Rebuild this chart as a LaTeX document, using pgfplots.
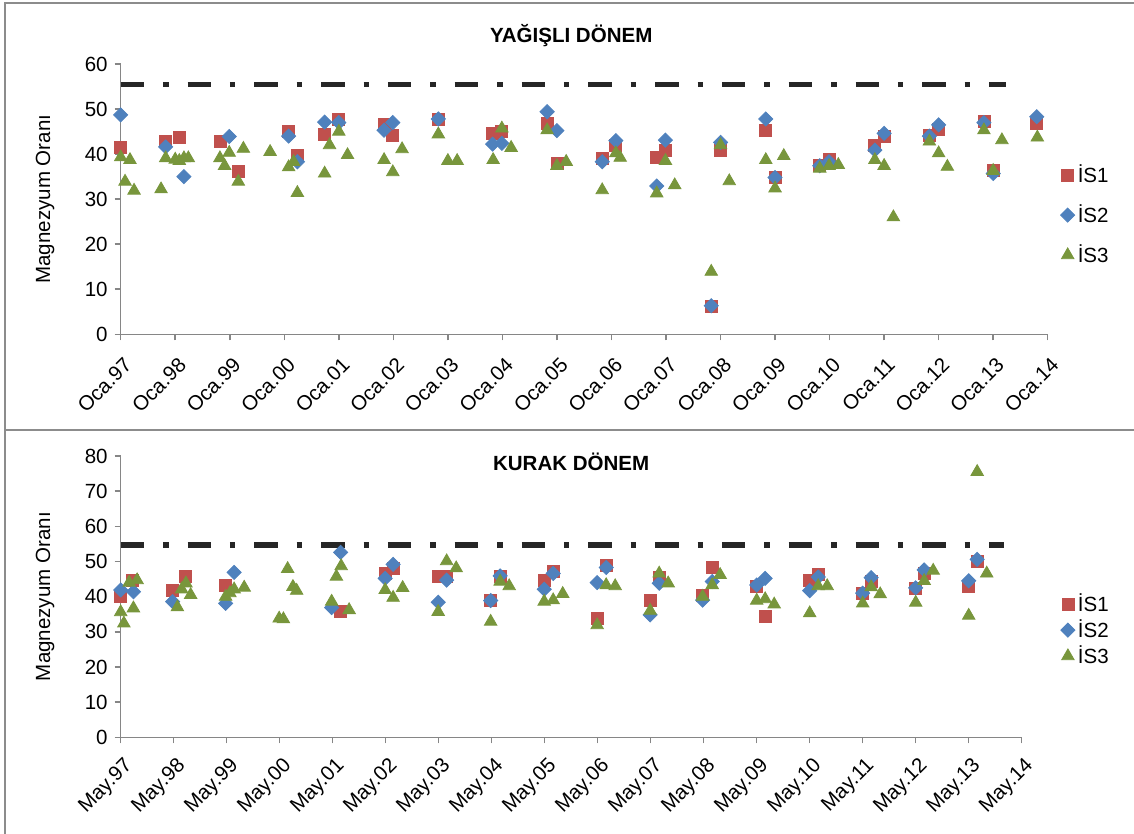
\documentclass[border=0pt]{standalone}
\usepackage{fontspec}
\setmainfont{Liberation Sans}
\usepackage{pgfplots}
\pgfplotsset{compat=1.18}
\definecolor{sA}{HTML}{C0504D}
\definecolor{sB}{HTML}{4F81BD}
\definecolor{sC}{RGB}{120,150,60}
\definecolor{axgray}{HTML}{868686}
\definecolor{frgray}{HTML}{8C8C8C}
\definecolor{limc}{HTML}{262626}
\newcommand{\fs}{\fontsize{10.3}{12}\selectfont}
\pgfplotsset{
  panel/.style={
    scale only axis,
    axis x line*=bottom, axis y line*=left,
    axis line style={draw=axgray, line width=0.75bp, -},
    tick align=outside, major tick length=3bp,
    tick style={draw=axgray, line width=0.75bp},
    xmin=0, xmax=17, xtick={0,...,17},
    enlargelimits=false, clip=false,
    font=\fs,
    /pgf/number format/assume math mode=true,
    ticklabel style={font=\fs},
    every axis title shift=0pt,
    legend cell align=left,
    ylabel={Magnezyum Oranı},
    legend image code/.code={\draw[mark repeat=2,mark phase=2,##1] plot coordinates {(0bp,0bp)(5bp,0bp)(10bp,0bp)};},
  },
  sA/.style={only marks, mark=square*, mark size=3bp, color=sA, fill=sA},
  sB/.style={only marks, mark=square*, mark size=2.5bp, mark options={rotate=45}, color=sB, fill=sB},
  sC/.style={only marks, mark=triangle*, mark size=3.6bp, color=sC, fill=sC},
  lim/.style={forget plot, no marks, color=limc, line width=2.7bp, dash pattern=on 11.7bp off 9.5bp on 2.7bp off 9.5bp},
}
\begin{document}
\begin{tikzpicture}
\useasboundingbox (0,0) rectangle (567bp,417bp);
\draw[frgray, line width=1bp] (2.5bp,0) -- (2.5bp,415.4bp) -- (567bp,415.4bp);
\draw[frgray, line width=1bp] (2.5bp,202bp) -- (567bp,202bp);
% ---------- top panel ----------
\begin{axis}[panel,
  at={(60.35bp,249.85bp)}, anchor=south west,
  width=463.5bp, height=135.15bp,
  ymin=0, ymax=60, ytick={0,10,...,60},
  xticklabels={Oca.97,Oca.98,Oca.99,Oca.00,Oca.01,Oca.02,Oca.03,Oca.04,Oca.05,Oca.06,Oca.07,Oca.08,Oca.09,Oca.10,Oca.11,Oca.12,Oca.13,Oca.14},
  xticklabel style={xshift=1bp, yshift=-6.5bp, rotate=45, anchor=north east, inner sep=1bp},
  title={\bfseries YAĞIŞLI DÖNEM},
  title style={at={(axis description cs:0.486,1.107)}, anchor=center, font=\fs},
  every axis y label/.style={at={(axis description cs:-0.0816,0.5)}, rotate=90, anchor=center},
  legend style={at={(axis description cs:1.0135,0.441)}, anchor=west, draw=none, fill=none, inner sep=0pt,
    font=\fs, nodes={inner sep=1.5bp, text height=7.5bp, text depth=0bp}, row sep=9.5bp},
]
\addplot[lim] coordinates {(0,55.5) (16.24,55.5)};
\addplot[sA] table {
0 41.4
0.825 42.9
1.075 43.6
1.82 42.9
2.157 36.1
3.08 45.0
3.24 39.6
3.74 44.4
4.0 47.6
4.83 46.5
4.99 44.2
5.825 47.7
6.82 44.5
6.99 45.1
7.82 46.8
8.0 38.0
8.83 39.1
9.08 42.0
9.83 39.2
9.99 40.9
10.83 6.1
11.0 40.8
11.83 45.2
12.0 34.8
12.82 37.4
12.99 38.8
13.83 42.0
14.0 43.9
14.83 44.2
15.0 45.5
15.83 47.2
16.0 36.3
16.8 46.8
};
\addplot[sB] table {
0 48.7
0.825 41.6
1.16 35.0
1.99 43.9
3.08 44.0
3.24 38.3
3.74 47.1
4.0 47.0
4.83 45.3
4.99 47.0
5.825 47.8
6.82 42.2
6.99 42.4
7.82 49.4
8.0 45.2
8.83 38.3
9.08 43.0
9.83 32.9
9.99 43.1
10.83 6.35
11.0 42.6
11.83 47.8
12.0 34.8
12.82 37.4
12.99 38.3
13.83 40.9
14.0 44.6
14.83 44.0
15.0 46.5
15.83 47.0
16.0 35.7
16.8 48.3
};
\addplot[sC] table {
0 39.3
0.08 33.9
0.17 38.7
0.245 31.9
0.74 32.2
0.825 39.1
1.0 38.8
1.075 38.5
1.16 39.1
1.24 39.1
1.82 39.1
1.905 37.4
1.99 40.3
2.157 33.9
2.25 41.2
2.74 40.5
3.08 37.1
3.17 38.3
3.24 31.4
3.74 35.7
3.83 42.0
4.0 45.0
4.16 39.8
4.83 38.7
4.99 36.0
5.16 41.1
5.825 44.4
6.0 38.5
6.17 38.5
6.83 38.7
6.99 45.7
7.16 41.4
7.82 45.3
8.0 37.4
8.17 38.3
8.83 32.0
9.08 40.2
9.16 39.2
9.83 31.3
9.99 38.5
10.16 33.1
10.83 13.9
11.0 42.0
11.16 34.0
11.83 38.7
12.0 32.4
12.16 39.6
12.82 36.8
12.99 37.4
13.16 37.6
13.83 38.7
14.0 37.4
14.17 26.0
14.83 42.8
15.0 40.2
15.16 37.2
15.83 45.3
16.0 36.3
16.16 43.1
16.81 43.7
};
\legend{İS1,İS2,İS3}
\end{axis}
% ---------- bottom panel ----------
\begin{axis}[panel,
  at={(60.35bp,48.35bp)}, anchor=south west,
  width=450.5bp, height=140.65bp,
  ymin=0, ymax=80, ytick={0,10,...,80},
  xticklabels={May.97,May.98,May.99,May.00,May.01,May.02,May.03,May.04,May.05,May.06,May.07,May.08,May.09,May.10,May.11,May.12,May.13,May.14},
  xticklabel style={xshift=1bp, yshift=-5bp, rotate=45, anchor=north east, inner sep=1bp},
  title={\bfseries KURAK DÖNEM},
  title style={at={(axis description cs:0.5,0.98)}, anchor=center, font=\fs},
  every axis y label/.style={at={(axis description cs:-0.0839,0.5)}, rotate=90, anchor=center},
  legend style={at={(axis description cs:1.043,0.381)}, anchor=west, draw=none, fill=none, inner sep=0pt,
    font=\fs, nodes={inner sep=1.5bp, text height=7.5bp, text depth=0bp}, row sep=2.5bp},
]
\addplot[lim] coordinates {(0,54.7) (16.67,54.7)};
\addplot[sA] table {
0 40.2
0.22 44.7
0.98 41.7
1.23 45.7
1.98 43.1
4.15 35.7
4.99 46.6
5.14 47.9
5.99 45.9
6.15 45.9
6.98 39.0
7.16 45.9
7.99 44.5
8.16 47.1
8.99 33.8
9.16 49.0
9.99 39.0
10.16 45.5
10.98 40.3
11.16 48.3
12.0 42.8
12.16 34.3
13.0 44.7
13.16 46.2
14.0 40.8
14.16 44.3
15.0 42.4
15.16 46.6
16.0 42.8
16.16 49.9
};
\addplot[sB] table {
0 41.9
0.24 41.4
0.98 38.6
1.98 38.1
2.14 46.9
3.98 36.9
4.15 52.6
4.99 45.2
5.14 49.2
5.99 38.4
6.15 44.7
6.98 38.9
7.16 45.9
7.99 42.1
8.16 46.6
8.99 44.0
9.16 48.3
9.99 34.8
10.16 43.8
10.98 39.0
11.16 44.3
12.0 43.3
12.16 45.2
13.0 41.7
13.16 45.6
14.0 41.0
14.16 45.4
15.0 42.5
15.16 47.6
16.0 44.5
16.16 50.6
};
\addplot[sC] table {
0 35.6
0.06 32.4
0.16 44.0
0.24 36.7
0.31 44.7
1.07 37.0
1.15 42.1
1.23 43.8
1.32 40.5
1.98 40.0
2.06 41.0
2.14 42.1
2.33 42.6
2.99 33.8
3.07 33.6
3.15 47.9
3.25 42.8
3.32 41.7
3.98 38.6
4.07 45.7
4.16 48.7
4.31 36.2
4.99 41.9
5.14 39.7
5.32 42.5
5.99 35.7
6.15 50.1
6.33 48.1
6.98 32.9
7.16 44.3
7.33 43.0
7.99 38.6
8.16 39.0
8.34 40.8
8.99 31.9
9.16 43.3
9.33 43.0
9.99 36.0
10.16 46.6
10.33 43.8
10.98 40.0
11.16 43.3
11.31 46.2
12.0 38.9
12.16 39.3
12.33 37.8
13.0 35.3
13.16 43.0
13.33 43.0
14.0 38.1
14.16 42.7
14.33 40.7
15.0 38.3
15.16 44.5
15.33 47.4
16.0 34.6
16.16 75.5
16.34 46.6
};
\legend{İS1,İS2,İS3}
\end{axis}
\end{tikzpicture}
\end{document}
